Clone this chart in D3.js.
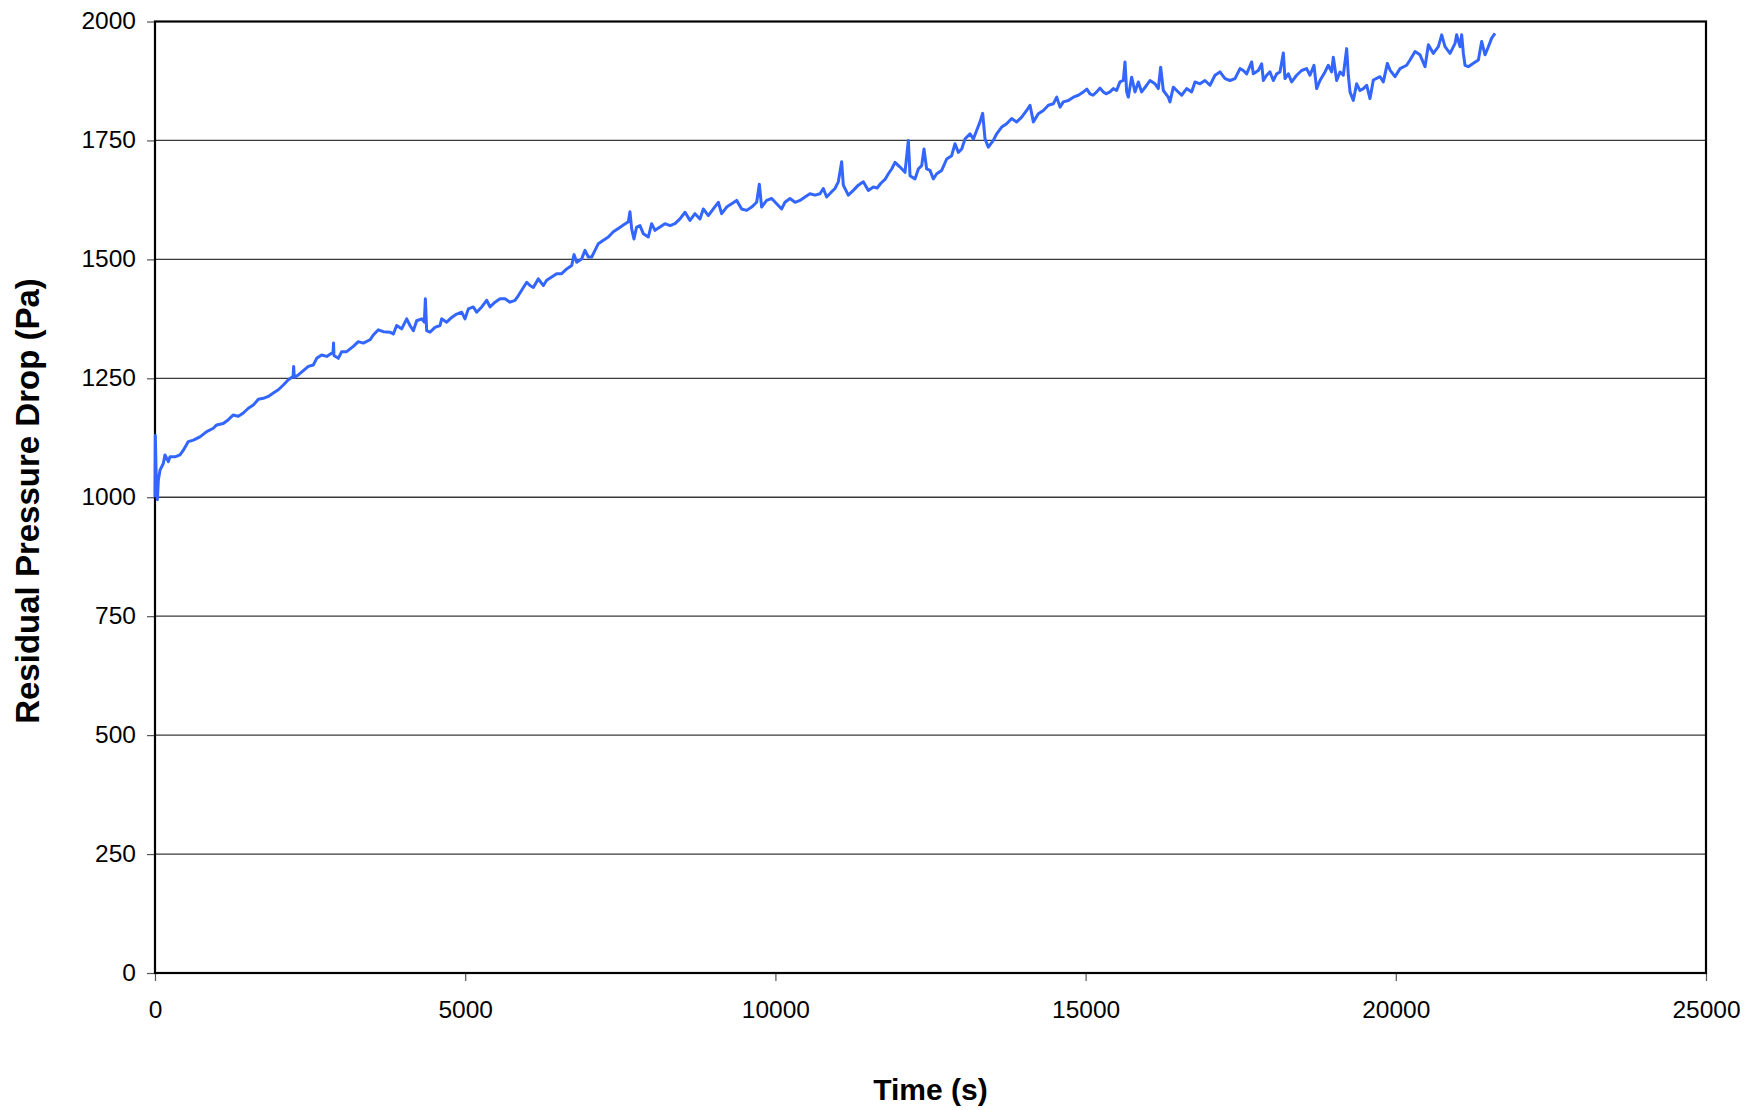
<!DOCTYPE html>
<html>
<head>
<meta charset="utf-8">
<script src="https://cdn.jsdelivr.net/npm/d3@7"></script>
<style>
  html, body { margin: 0; padding: 0; background: #fff; }
  svg { display: block; }
</style>
</head>
<body>
<svg id="chart" width="1763" height="1110"></svg>
<script>
// ---------------- DATA ----------------
const xTicks = [0, 5000, 10000, 15000, 20000, 25000];
const yTicks = [0, 250, 500, 750, 1000, 1250, 1500, 1750, 2000];
const xTitle = "Time (s)";
const yTitle = "Residual Pressure Drop (Pa)";

const time = [
  0,5,20,38,54,81,134,161,215,242,322,403,457,537,618,725,833,940,994,1101,
  1182,1263,1343,1424,1504,1585,1666,1746,1827,1907,1988,2069,2149,2225,2235,2245,
  2310,2391,2472,2552,2606,2686,2767,2870,2878,2885,2955,3009,3089,3197,3277,3358,
  3466,3519,3600,3681,3788,3842,3895,3976,4057,4110,4164,4218,4298,4341,4358,4379,
  4433,4513,4594,4621,4701,4782,4863,4943,4997,5051,5131,5185,5266,5346,5400,5481,
  5561,5642,5722,5803,5857,5910,5991,6045,6098,6179,6260,6313,6394,6475,6555,6636,
  6716,6754,6797,6877,6931,6985,7039,7092,7146,7227,7307,7388,7468,7549,7630,7656,
  7683,7720,7763,7817,7871,7952,8005,8059,8140,8220,8301,8381,8462,8543,8623,8704,
  8784,8838,8919,8999,9080,9134,9214,9295,9375,9456,9537,9617,9698,9741,9778,9859,
  9940,10020,10101,10154,10235,10316,10396,10477,10557,10638,10719,10772,10826,10907,
  10960,11014,11068,11095,11175,11256,11337,11417,11498,11578,11640,11700,11767,11821,
  11874,11928,12009,12089,12143,12170,12250,12304,12358,12395,12438,12492,12546,12600,
  12680,12761,12841,12895,12949,13003,13056,13137,13191,13244,13298,13341,13379,13432,
  13513,13567,13647,13728,13808,13889,13970,14050,14104,14158,14238,14319,14400,14480,
  14534,14588,14641,14722,14803,14883,14964,15020,15071,15120,15179,15230,15286,15330,
  15393,15447,15500,15554,
  15608,15635,15662,15688,15742,15796,15850,15903,15984,16038,16118,16172,16210,16253,
  16333,16360,16414,16468,16548,16629,16709,16763,16844,16924,17005,17086,17166,17247,
  17328,17408,17489,17542,17596,17677,17703,17784,17838,17865,17918,17972,18026,18080,
  18133,18187,18214,18268,18321,18402,18482,18563,18617,18681,18724,18778,18859,18912,
  18966,18993,19047,19100,19154,19208,19235,19262,19315,19369,19423,19477,19531,19584,
  19638,19746,19799,19864,19907,19987,20068,20175,20229,20310,20390,20471,20525,20605,
  20686,20740,20793,20874,20955,20981,21035,21062,21089,21116,21169,21250,21331,21384,
  21438,21492,21545,21599
];

const pressure = [
  1000,1130,1040,995,1036,1057,1071,1089,1075,1085,1085,1089,1099,1117,1120,1127,1138,1145,1152,1155,
  1163,1173,1170,1177,1187,1194,1206,1208,1212,1219,1226,1236,1247,1254,1275,1252,
  1257,1266,1275,1278,1292,1299,1296,1305,1324,1298,1292,1306,1306,1317,1327,1324,
  1331,1341,1352,1348,1347,1343,1361,1354,1375,1361,1350,1371,1375,1368,1417,1350,
  1347,1357,1361,1375,1368,1378,1385,1389,1375,1396,1400,1389,1400,1414,1400,1410,
  1417,1417,1410,1414,1424,1435,1452,1445,1441,1459,1445,1456,1463,1470,1470,1480,
  1487,1510,1494,1501,1519,1505,1505,1519,1533,1540,1547,1558,1565,1572,1579,1600,
  1564,1543,1568,1571,1554,1547,1575,1561,1568,1575,1571,1575,1585,1599,1582,1596,
  1585,1606,1592,1606,1620,1596,1610,1617,1624,1606,1603,1610,1620,1658,1610,1624,
  1628,1617,1606,1620,1628,1620,1624,1631,1638,1635,1638,1649,1631,1642,
  1649,1663,1705,1656,1635,1645,1656,1663,1645,1652,1650,1660,1668,1680,
  1690,1704,1694,1683,1750,1676,1669,1690,1697,1732,1690,1687,1669,1680,
  1687,1711,1718,1743,1725,1732,1753,1764,1753,1771,1789,1807,1753,1736,
  1750,1764,1778,1785,1796,1789,1799,1813,1824,1789,1806,1813,1824,1827,
  1841,1820,1831,1834,1841,1845,1852,1858,1848,1845,1852,1860,1852,1848,
  1852,1859,1855,1873,
  1876,1915,1852,1841,1883,1852,1873,1852,1866,1876,1869,1859,1904,1855,
  1841,1831,1862,1855,1845,1859,1852,1873,1869,1876,1866,1887,1894,1880,
  1876,1880,1901,1897,1890,1915,1890,1897,1911,1876,1887,1894,1876,1890,
  1894,1934,1880,1890,1873,1887,1897,1901,1887,1908,1859,1876,1894,1908,
  1894,1925,1876,1894,1887,1943,1887,1852,1834,1869,1855,1859,1866,1838,
  1877,1884,1873,1912,1898,1884,1901,1908,1919,1937,1930,1905,1951,1933,
  1947,1972,1947,1933,1954,1972,1947,1972,1933,1908,1905,1912,1919,1958,
  1930,1947,1965,1975
];

// ---------------- CHART ----------------
const svg = d3.select("#chart");
const L = 155, R = 1706, T = 21.5, B = 973;

const x = d3.scaleLinear().domain([0, 25000]).range([L, R]);
const y = d3.scaleLinear().domain([0, 2000]).range([B, T]);

const font = "Liberation Sans, Arial, Helvetica, sans-serif";

// gridlines
svg.append("g")
  .selectAll("line")
  .data(yTicks.filter(d => d > 0 && d < 2000))
  .join("line")
  .attr("x1", L).attr("x2", R)
  .attr("y1", d => y(d)).attr("y2", d => y(d))
  .attr("stroke", "#3a3a3a")
  .attr("stroke-width", 1.3);

// y axis
const yAxis = svg.append("g")
  .attr("transform", `translate(${L},0)`)
  .call(d3.axisLeft(y).tickValues(yTicks).tickSize(8).tickPadding(11).tickFormat(d3.format("d")));
yAxis.select(".domain").remove();
yAxis.selectAll(".tick line").attr("stroke", "#555").attr("stroke-width", 1.2);
yAxis.selectAll(".tick text")
  .attr("font-family", font).attr("font-size", 24.5).attr("fill", "#000")
  .attr("dy", "0.3em");

// x axis
const xAxis = svg.append("g")
  .attr("transform", `translate(0,${B})`)
  .call(d3.axisBottom(x).tickValues(xTicks).tickSize(8).tickPadding(20).tickFormat(d3.format("d")));
xAxis.select(".domain").remove();
xAxis.selectAll(".tick line").attr("stroke", "#555").attr("stroke-width", 1.2);
xAxis.selectAll(".tick text")
  .attr("font-family", font).attr("font-size", 24.5).attr("fill", "#000");

// plot frame
svg.append("rect")
  .attr("x", L).attr("y", T)
  .attr("width", R - L).attr("height", B - T)
  .attr("fill", "none")
  .attr("stroke", "#000")
  .attr("stroke-width", 2.2);

// data line
const data = time.map((t, i) => [t, pressure[i]]);
const line = d3.line().x(d => x(d[0])).y(d => y(d[1]));
svg.append("path")
  .datum(data)
  .attr("d", line)
  .attr("fill", "none")
  .attr("stroke", "#3366ff")
  .attr("stroke-width", 3)
  .attr("stroke-linejoin", "round");

// titles
svg.append("text")
  .attr("x", (L + R) / 2).attr("y", 1100)
  .attr("text-anchor", "middle")
  .attr("font-family", font).attr("font-weight", "bold").attr("font-size", 30)
  .attr("fill", "#000")
  .text(xTitle);

svg.append("text")
  .attr("transform", `translate(39,501) rotate(-90)`)
  .attr("text-anchor", "middle")
  .attr("font-family", font).attr("font-weight", "bold").attr("font-size", 33)
  .attr("fill", "#000")
  .text(yTitle);
</script>
</body>
</html>
